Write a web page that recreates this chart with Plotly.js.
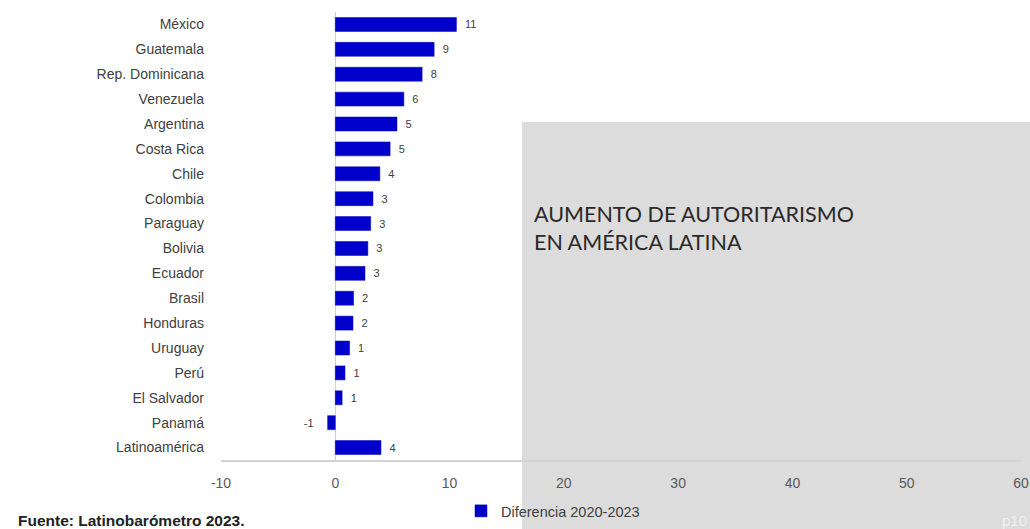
<!DOCTYPE html>
<html>
<head>
<meta charset="utf-8">
<script src="https://cdn.plot.ly/plotly-3.0.1.min.js"></script>
<style>html,body{margin:0;padding:0;background:#fff;}#chart{width:1030px;height:529px;}</style>
</head>
<body>
<div id="chart"></div>
<script>
const countries = ["México","Guatemala","Rep. Dominicana","Venezuela","Argentina","Costa Rica","Chile","Colombia","Paraguay","Bolivia","Ecuador","Brasil","Honduras","Uruguay","Perú","El Salvador","Panamá","Latinoamérica"];
const diferencia = [10.6, 8.65, 7.6, 6.0, 5.4, 4.8, 3.9, 3.3, 3.1, 2.85, 2.6, 1.6, 1.55, 1.25, 0.85, 0.6, -0.67, 4.0];
const seriesName = "Diferencia 2020-2023";
const xTicks = [-10, 0, 10, 20, 30, 40, 50, 60];

const labelTemplates = diferencia.map(v => v >= 0 ? "\u2002%{x:.0f}" : "%{x:.0f}\u2002\u2002");

const trace = {
  type: "bar",
  orientation: "h",
  y: countries,
  x: diferencia,
  name: seriesName,
  marker: {color: "#0000cc", line: {color: "#0000aa", width: 0.5}},
  texttemplate: labelTemplates,
  textposition: "outside",
  textfont: {family: "Liberation Sans, Arial, sans-serif", size: 11, color: "#404040"},
  cliponaxis: false,
  hoverinfo: "x+y",
  showlegend: true
};

const layout = {
  width: 1030,
  height: 529,
  margin: {l: 221, r: 9, t: 12, b: 69, autoexpand: false},
  paper_bgcolor: "#ffffff",
  plot_bgcolor: "rgba(0,0,0,0)",
  bargap: 0.44,
  font: {family: "Liberation Sans, Arial, sans-serif", color: "#404040"},
  xaxis: {
    range: [-10, 60],
    tickvals: xTicks,
    ticktext: xTicks.map(String),
    ticklabeloverflow: "allow",
    automargin: false,
    showgrid: false,
    zeroline: true,
    zerolinecolor: "#c8cedc",
    zerolinewidth: 1,
    showline: true,
    linecolor: "#d4d4d4",
    linewidth: 1.5,
    ticks: "",
    ticklabelstandoff: 10,
    tickfont: {size: 14, color: "#595959"},
    fixedrange: true
  },
  yaxis: {
    autorange: "reversed",
    type: "category",
    automargin: false,
    showgrid: false,
    showline: false,
    zeroline: false,
    ticks: "",
    ticklabelstandoff: 16,
    tickfont: {size: 14, color: "#404040"},
    fixedrange: true
  },
  legend: {
    orientation: "h",
    x: 0.3,
    xanchor: "left",
    y: -0.078,
    yanchor: "top",
    bgcolor: "rgba(0,0,0,0)",
    font: {size: 14.5, color: "#404040"}
  },
  shapes: [{
    type: "rect",
    xref: "paper", yref: "paper",
    x0: 0.37625, x1: 1.0115,
    y0: -0.154, y1: 0.7545,
    fillcolor: "#dcdcdc",
    line: {width: 0},
    layer: "below"
  }],
  annotations: [
    {
      xref: "paper", yref: "paper",
      x: 0.389, y: 0.549, xanchor: "left", yanchor: "middle",
      text: "AUMENTO DE AUTORITARISMO",
      showarrow: false,
      font: {family: "Lato, sans-serif", size: 21.5, color: "#2a2a2a"}
    },
    {
      xref: "paper", yref: "paper",
      x: 0.389, y: 0.4865, xanchor: "left", yanchor: "middle",
      text: "EN AMÉRICA LATINA",
      showarrow: false,
      font: {family: "Lato, sans-serif", size: 21.5, color: "#2a2a2a"}
    },
    {
      xref: "paper", yref: "paper",
      x: -0.2563, y: -0.134, xanchor: "left", yanchor: "middle",
      text: "<b>Fuente: Latinobarómetro 2023.</b>",
      showarrow: false,
      font: {family: "Liberation Sans, Arial, sans-serif", size: 15.5, color: "#222222"}
    },
    {
      xref: "paper", yref: "paper",
      x: 1.0095, y: -0.134, xanchor: "right", yanchor: "middle",
      text: "p10",
      showarrow: false,
      font: {family: "Liberation Sans, Arial, sans-serif", size: 15, color: "#f0f0f0"}
    }
  ]
};

Plotly.newPlot("chart", [trace], layout, {displayModeBar: false, staticPlot: true});
</script>
</body>
</html>
